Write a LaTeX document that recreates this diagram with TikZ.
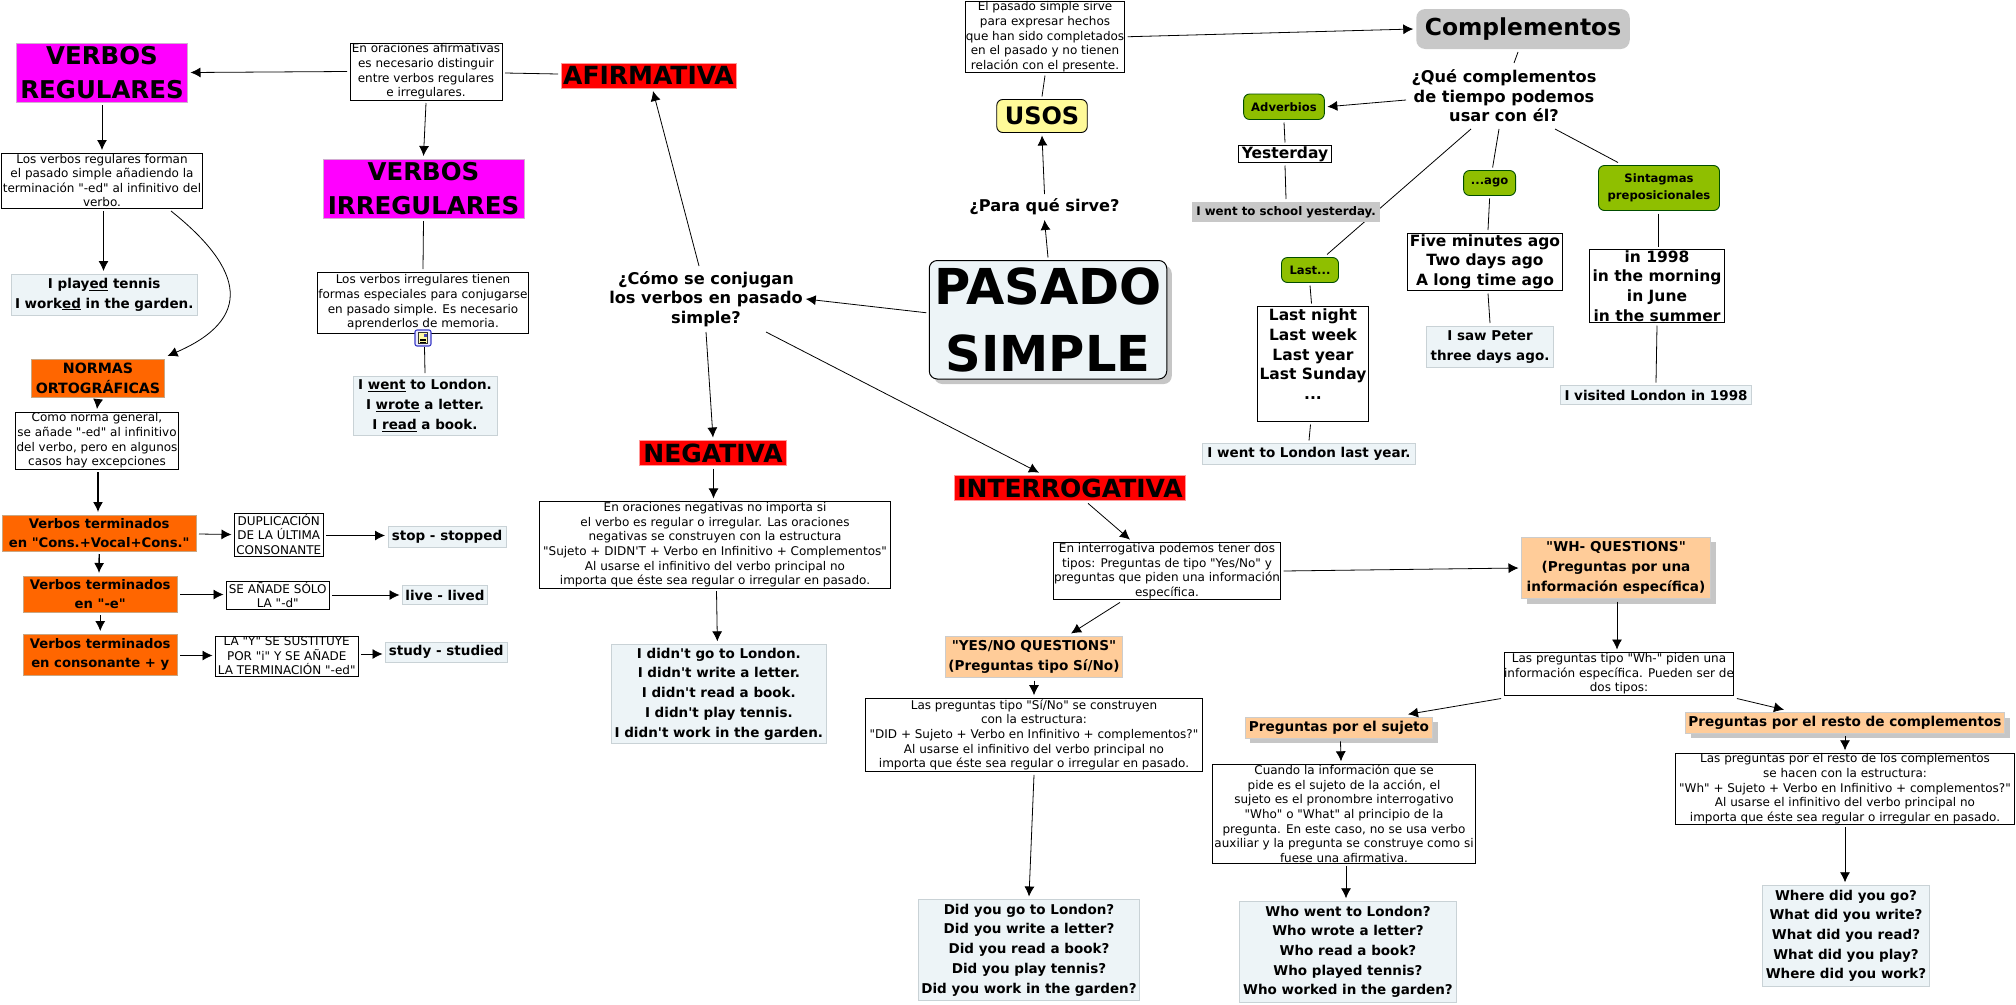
\documentclass[tikz,border=0pt]{standalone}
\usepackage{fontspec}
\setmainfont{DejaVu Sans}[Ligatures=TeXOff]
\usepackage{xcolor}
\usepackage{tikz}
\usetikzlibrary{arrows.meta,backgrounds,shadows}
\definecolor{palido}{HTML}{EDF4F7}
\definecolor{bordepal}{HTML}{C9D2D6}
\definecolor{verde}{HTML}{8FBF00}
\definecolor{salmon}{HTML}{FFCC99}
\definecolor{naranja}{HTML}{FF6600}
\definecolor{gris}{HTML}{C8C8C8}
\definecolor{fucsia}{HTML}{FF00FF}
\definecolor{rojizo}{HTML}{FF0000}
\tikzstyle{base}= [align=center, inner sep=0pt, outer sep=3pt]
\tikzstyle{nota}= [base, draw=black, line width=0.9pt, fill=white, font=\fontsize{12}{14.6}\selectfont]
\tikzstyle{frase}= [base, draw=bordepal, line width=0.9pt, fill=palido, font=\bfseries\fontsize{13.5}{19.7}\selectfont]
\tikzstyle{expr}= [base, draw=black, line width=0.9pt, fill=white, font=\bfseries\fontsize{15.5}{19.6}\selectfont]
\tikzstyle{morado}= [base, draw=fucsia!30!gray!50, line width=0.9pt, fill=fucsia, font=\bfseries\fontsize{24.5}{34}\selectfont]
\tikzstyle{rojo}= [base, draw=rojizo!40, line width=0.9pt, fill=rojizo, font=\bfseries\fontsize{25}{25}\selectfont]
\tikzstyle{orto}= [base, draw=orange!40!gray!70, line width=0.9pt, fill=naranja, font=\bfseries\fontsize{13.2}{19.7}\selectfont]
\tikzstyle{preg}= [base, draw=gray!40, line width=0.9pt, fill=salmon, font=\bfseries\fontsize{13.6}{19.7}\selectfont]
\tikzstyle{somb}= [drop shadow={shadow xshift=5pt,shadow yshift=-5pt,fill=gray!45,opacity=1}]
\tikzstyle{tipo}= [base, draw=black!70!green, line width=0.9pt, fill=verde, rounded corners=6pt, font=\bfseries\fontsize{11.6}{17}\selectfont]
\tikzstyle{duda}= [base, font=\bfseries\fontsize{16.2}{19.6}\selectfont]
\tikzstyle{arr}= [-{Latex[length=10pt,width=10pt]}, line width=0.8pt]
\tikzstyle{lin}= [line width=0.8pt]
\tikzset{tam/.style 2 args={minimum width=#1,minimum height=#2}}
\begin{document}
\begin{tikzpicture}[x=1pt,y=-1pt]
	\useasboundingbox (0,0) rectangle (2016,1004);
	\node[morado] at (102,72.5) [tam={171}{59}] (verbreg) {VERBOS\\REGULARES};
	\node[nota] at (426,71.5) [tam={152}{57}] (afirnota) {En oraciones afirmativas\\es necesario distinguir\\entre verbos regulares\\e irregulares.};
	\node[morado] at (423.5,188.5) [tam={201}{59}] (verbirr) {VERBOS\\IRREGULARES};
	\node[nota] at (423,302.5) [tam={211}{61}] (irrnota) {Los verbos irregulares tienen\\formas especiales para conjugarse\\en pasado simple. Es necesario\\aprenderlos de memoria.};
	\node[frase] at (425,405.5) [tam={144}{59}] (irrfrase) {I \underline{went} to London.\\I \underline{wrote} a letter.\\I \underline{read} a book.};
	\node[nota] at (102,180.5) [tam={201}{55}] (regnota) {Los verbos regulares forman\\el pasado simple añadiendo la\\terminación "-ed" al infinitivo del\\verbo.};
	\node[frase] at (104.25,294.5) [tam={185.5}{41}] (regfrase) {I play\underline{ed} tennis\\I work\underline{ed} in the garden.};
	\node[orto,font=\bfseries\fontsize{14.2}{19.7}\selectfont] at (98,378) [tam={133}{38}] (normas) {NORMAS\\ORTOGRÁFICAS};
	\node[nota] at (97,440.5) [tam={163}{57}] (normanota) {Como norma general,\\se añade "-ed" al infinitivo\\del verbo, pero en algunos\\casos hay excepciones};
	\node[orto] at (99.25,533) [tam={193.5}{36}] (cons) {Verbos terminados\\en "Cons.+Vocal+Cons."};
	\node[nota] at (278.75,534.5) [tam={88.5}{43}] (dupl) {DUPLICACIÓN\\DE LA ÚLTIMA\\CONSONANTE};
	\node[frase] at (447,536.5) [tam={118}{21}] (stop) {stop - stopped};
	\node[orto] at (100.25,594) [tam={153.5}{36}] (vocale) {Verbos terminados\\en "-e"};
	\node[nota] at (277.75,595) [tam={102.5}{28}] (anade) {SE AÑADE SÓLO\\LA "-d"};
	\node[frase] at (445,595) [tam={85}{18.5}] (live) {live - lived};
	\node[orto] at (100.25,654.5) [tam={153.5}{41}] (consy) {Verbos terminados\\en consonante + y};
	\node[nota] at (286.75,656) [tam={142.5}{40}] (ladoy) {LA "Y" SE SUSTITUYE\\POR "i" Y SE AÑADE\\LA TERMINACIÓN "-ed"};
	\node[frase] at (446.25,652) [tam={121.5}{20}] (study) {study - studied};
	\node[rojo] at (648.5,75.5) [tam={175}{25}] (afir) {AFIRMATIVA};
	\node[duda] at (706,299) [tam={190}{60}] (como) {¿Cómo se conjugan\\los verbos en pasado\\simple?};
	\node[base,draw=black,line width=1pt,fill=palido,rounded corners=8pt,somb,font=\bfseries\fontsize{49.5}{67}\selectfont] at (1048,319.75) [tam={237.5}{118.5}] (pasado) {PASADO\\SIMPLE};
	\node[nota] at (1045,36.75) [tam={159}{71.5}] (usonota) {El pasado simple sirve\\para expresar hechos\\que han sido completados\\en el pasado y no tienen\\relación con el presente.};
	\node[base,draw=black,line width=0.9pt,fill=yellow!40,rounded corners=6pt,font=\bfseries\fontsize{24}{24}\selectfont] at (1042,116) [tam={90.5}{33}] (usos) {USOS};
	\node[duda] at (1044.5,207) [tam={150}{20}] (para) {¿Para qué sirve?};
	\node[base,fill=gris,rounded corners=9pt,font=\bfseries\fontsize{23.4}{28}\selectfont] at (1523,29) [tam={213.5}{40}] (compl) {Complementos};
	\node[duda] at (1504,96) [tam={190}{60}] (quecompl) {¿Qué complementos\\de tiempo podemos\\usar con él?};
	\node[tipo] at (1284,106.75) [tam={80.7}{25.5}] (adverb) {Adverbios};
	\node[expr] at (1285,154) [tam={92.7}{17}] (yest) {Yesterday};
	\node[base,fill=gris,font=\bfseries\fontsize{11.8}{19.7}\selectfont] at (1286,212) [tam={187.7}{20}] (school) {I went to school yesterday.};
	\node[tipo] at (1489.6,183) [tam={52}{25}] (ago) {...ago};
	\node[expr] at (1485,261.75) [tam={154.6}{57.5}] (agoexpr) {Five minutes ago\\Two days ago\\A long time ago};
	\node[frase] at (1490,346.75) [tam={126.7}{41.5}] (saw) {I saw Peter\\three days ago.};
	\node[tipo] at (1659,188) [tam={121}{45}] (sintag) {Sintagmas\\preposicionales};
	\node[expr] at (1657,286) [tam={135}{73}] (prepexpr) {in 1998\\in the morning\\in June\\in the summer};
	\node[frase] at (1656,395) [tam={191}{19}] (visited) {I visited London in 1998};
	\node[tipo] at (1310,270) [tam={57}{25}] (last) {Last...};
	\node[expr] at (1313,364) [tam={111.3}{115}] (lastexpr) {Last night\\Last week\\Last year\\Last Sunday\\...\\\phantom{.}};
	\node[frase] at (1309,454) [tam={212.8}{21}] (london) {I went to London last year.};
	\node[rojo] at (713,453) [tam={147.3}{25}] (nega) {NEGATIVA};
	\node[nota] at (715,544.8) [tam={351.3}{86.8}] (neganota) {En oraciones negativas no importa si\\el verbo es regular o irregular. Las oraciones\\negativas se construyen con la estructura\\"Sujeto + DIDN'T + Verbo en Infinitivo + Complementos"\\Al usarse el infinitivo del verbo principal no\\importa que éste sea regular o irregular en pasado.};
	\node[frase] at (718.85,694) [tam={215}{99.3}] (negafrase) {I didn't go to London.\\I didn't write a letter.\\I didn't read a book.\\I didn't play tennis.\\I didn't work in the garden.};
	\node[rojo] at (1070,488) [tam={231}{24.7}] (inter) {INTERROGATIVA};
	\node[nota] at (1167,571) [tam={227}{56.8}] (internota) {En interrogativa podemos tener dos\\tipos: Preguntas de tipo "Yes/No" y\\preguntas que piden una información\\específica.};
	\node[preg] at (1034,657) [tam={176.8}{41}] (yesno) {"YES/NO QUESTIONS"\\(Preguntas tipo Sí/No)};
	\node[nota] at (1034,735) [tam={337.5}{73.6}] (sinota) {Las preguntas tipo "Sí/No" se construyen\\con la estructura:\\"DID + Sujeto + Verbo en Infinitivo + complementos?"\\Al usarse el infinitivo del verbo principal no\\importa que éste sea regular o irregular en pasado.};
	\node[frase] at (1029,950) [tam={221}{101}] (sifrase) {Did you go to London?\\Did you write a letter?\\Did you read a book?\\Did you play tennis?\\Did you work in the garden?};
	\node[preg,somb] at (1616,568) [tam={189}{61.4}] (wh) {"WH- QUESTIONS"\\(Preguntas por una\\información específica)};
	\node[nota] at (1619,674) [tam={229}{43}] (whnota) {Las preguntas tipo "Wh-" piden una\\información específica. Pueden ser de\\dos tipos:};
	\node[preg,somb] at (1339,727.8) [tam={187.3}{21}] (sujeto) {Preguntas por el sujeto};
	\node[preg,somb] at (1845,723) [tam={319}{20.6}] (resto) {Preguntas por el resto de complementos};
	\node[nota] at (1845,788.8) [tam={338.8}{71}] (restonota) {Las preguntas por el resto de los complementos\\se hacen con la estructura:\\"Wh" + Sujeto + Verbo en Infinitivo + complementos?"\\Al usarse el infinitivo del verbo principal no\\importa que éste sea regular o irregular en pasado.};
	\node[frase] at (1846,935.8) [tam={167}{101}] (restofrase) {Where did you go?\\What did you write?\\What did you read?\\What did you play?\\Where did you work?};
	\node[nota] at (1344,813.8) [tam={262.8}{99}] (sujnota) {Cuando la información que se\\pide es el sujeto de la acción, el\\sujeto es el pronombre interrogativo\\"Who" o "What" al principio de la\\pregunta. En este caso, no se usa verbo\\auxiliar y la pregunta se construye como si\\fuese una afirmativa.};
	\node[frase] at (1348,951.8) [tam={217}{101}] (sujfrase) {Who went to London?\\Who wrote a letter?\\Who read a book?\\Who played tennis?\\Who worked in the garden?};
	\node[base,draw=blue!55!gray,line width=1.1pt,fill=blue!8,rounded corners=2pt] at (423,338) [tam={16}{16},outer sep=1pt] (icono) {};
	\node[base,draw=black!80,line width=0.5pt,fill=yellow!35] at (423,338) [tam={9}{11}] (iconhoja) {};
	\fill[blue!45!gray] (423.5,333.5) rectangle (426.5,337);
	\draw[line width=0.5pt] (420,339) -- (426,339) (420,340.5) -- (426,340.5) (420,342) -- (426,342);
	\path[arr] (afirnota.west) edge (verbreg.east) (afirnota.south) edge (verbirr.north) (verbreg.south) edge (regnota.north) ([xshift=1.5pt]regnota.south) edge ([xshift=-0.75pt]regfrase.north);
	\path[lin] ([yshift=1.5pt]afir.west) edge ([yshift=-1.5pt]afirnota.east) (verbirr.south) edge (irrnota.north) ([xshift=1.5pt]icono.south) edge (irrfrase.north);
	\draw[arr] (171,211) .. controls (245,270) and (253,319) .. (normas.north east);
	\path[arr] (normas.south) edge (normanota.north) ([yshift=-1pt]cons.east) edge (dupl.west) ([yshift=-1pt]dupl.east) edge ([yshift=1pt]stop.west) ([yshift=-0.5pt]vocale.east) edge ([yshift=0.5pt]anade.west) (anade.east) edge (live.west) ([yshift=-1pt]consy.east) edge ([yshift=0.5pt]ladoy.west) ([yshift=2pt]ladoy.east) edge ([yshift=-2pt]study.west) (vocale.south) edge (consy.north);
	\path[arr,line width=1.4pt] ([xshift=1pt]normanota.south) edge ([xshift=-1.25pt]cons.north) (cons.south) edge ([xshift=-1.25pt]vocale.north);
	\path[arr] ([xshift=-7pt]como.north) edge ([xshift=4.5pt]afir.south) (como.south) edge (nega.north) ([xshift=60pt]como.south) edge ([xshift=-31pt]inter.north) ([yshift=7pt]pasado.west) edge (como.east) (pasado.north) edge (para.south) (para.north) edge (usos.south) ([xshift=0.5pt]nega.south) edge ([xshift=-1.5pt]neganota.north) ([xshift=1.5pt]neganota.south) edge ([xshift=-1.5pt]negafrase.north);
	\path[arr] ([xshift=18pt]inter.south) edge ([xshift=-37pt]internota.north) ([xshift=-47pt]internota.south) edge ([xshift=37pt]yesno.north) (internota.east) edge (wh.west) (yesno.south) edge (sinota.north) (sinota.south) edge (sifrase.north);
	\path[arr] ([xshift=1pt]wh.south) edge ([xshift=-2pt]whnota.north) (whnota.south west) edge ([xshift=69pt]sujeto.north) (whnota.south east) edge ([xshift=-61pt]resto.north) (resto.south) edge (restonota.north) (restonota.south) edge ([xshift=-1pt]restofrase.north) ([xshift=1.5pt]sujeto.south) edge ([xshift=-3pt]sujnota.north) ([xshift=2pt]sujnota.south) edge ([xshift=-2pt]sujfrase.north);
	\path[lin] (usos.north) edge (usonota.south);
	\path[arr] (usonota.east) edge (compl.west) ([yshift=-4pt]quecompl.west) edge (adverb.east);
	\path[lin] ([xshift=-5pt]compl.south) edge ([xshift=10pt]quecompl.north) (adverb.south) edge (yest.north) (yest.south) edge (school.north) ([xshift=-5pt]quecompl.south) edge ([xshift=3pt]ago.north) (ago.south) edge ([xshift=3pt]agoexpr.north) ([xshift=3pt]agoexpr.south) edge (saw.north) ([xshift=51pt]quecompl.south) edge ([xshift=-41pt]sintag.north) ([xshift=-1pt]sintag.south) edge ([xshift=1pt]prepexpr.north) (prepexpr.south) edge (visited.north) (last.south) edge ([xshift=-1.5pt]lastexpr.north) ([xshift=-2.5pt]lastexpr.south) edge (london.north);
	\begin{scope}[on background layer]
		\path[lin] ([xshift=-33pt]quecompl.south) edge ([xshift=17pt]last.north);
	\end{scope}
\end{tikzpicture}
\end{document}
